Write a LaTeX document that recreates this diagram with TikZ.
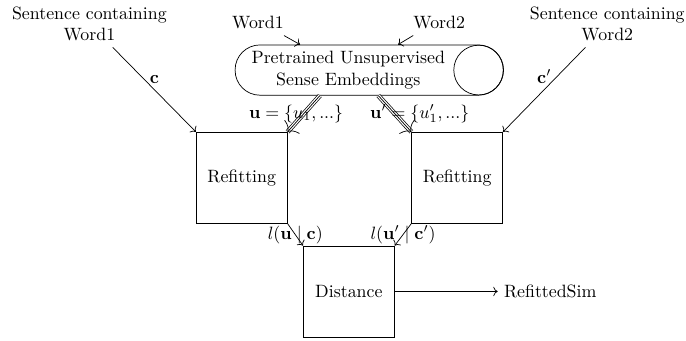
\documentclass[tikz,border=0pt]{standalone}
\usepackage{amsmath,amssymb}
\usetikzlibrary{positioning,arrows.meta}

\begin{document}
\begin{tikzpicture}[node distance=2.03cm,
  stage/.style={draw,minimum size=1.79cm},
  triple/.style={double,double distance=1.8pt},
  tripletip/.style={-{To[width=4mm,length=1.4mm]}}]
\useasboundingbox (0,0) rectangle (13.51,-6.70);
% inputs
\node[align=center] (sent1) at (1.76,-0.47) {Sentence containing\\Word1};
\node[align=center] (sent2) at (11.96,-0.47) {Sentence containing\\Word2};
\node (w1) at (5.08,-0.45) {Word1};
\node (w2) at (8.65,-0.45) {Word2};
\node[draw,rounded corners=0.49cm,minimum width=5.28cm,minimum height=0.99cm] (emb) at (7.27,-1.38) {};
\draw ([xshift=-0.49cm]emb.east) circle (0.49cm);
\node[align=center] (embtext) at ([xshift=-0.41cm]emb.center) {Pretrained Unsupervised\\Sense Embeddings};
% boxes
\node[stage] (ref1) at (4.76,-3.50) {Refitting};
\node[stage,right=2.44cm of ref1] (ref2) {Refitting};
\node[stage] (dist) at (6.87,-5.74) {Distance};
\node[right=of dist] (sim) {RefittedSim};
% arrows
\draw[->] ([xshift=0.46cm]sent1.south) -- (ref1.north west) node[midway,above] {$\mathbf{c}$};
\draw[->] ([xshift=-0.43cm]sent2.south) -- (ref2.north east) node[midway,above] {$\mathbf{c}'$};
\draw[->] ([xshift=-0.12cm]w1.south east) -- ([xshift=-1.36cm]emb.north);
\draw[->] ([xshift=0.12cm]w2.south west) -- ([xshift=0.57cm]emb.north);
\draw[triple] ([xshift=-0.97cm]emb.south) -- (ref1.north east) node[midway,xshift=-0.15cm] {$\mathbf{u}=\{u_1,...\}$};
\draw[tripletip] ([xshift=-0.97cm]emb.south) -- (ref1.north east);
\draw[triple] ([xshift=0.18cm]emb.south) -- (ref2.north west) node[midway,xshift=0.49cm] {$\mathbf{u}'=\{u'_1,...\}$};
\draw[tripletip] ([xshift=0.18cm]emb.south) -- (ref2.north west);
\draw[->] (ref1.south east) -- (dist.north west) node[midway] {$l(\mathbf{u}\mid\mathbf{c})$};
\draw[->] (ref2.south west) -- (dist.north east) node[midway] {$l(\mathbf{u}'\mid\mathbf{c}')$};
\draw[->] (dist) -- (sim);
\end{tikzpicture}
\end{document}
